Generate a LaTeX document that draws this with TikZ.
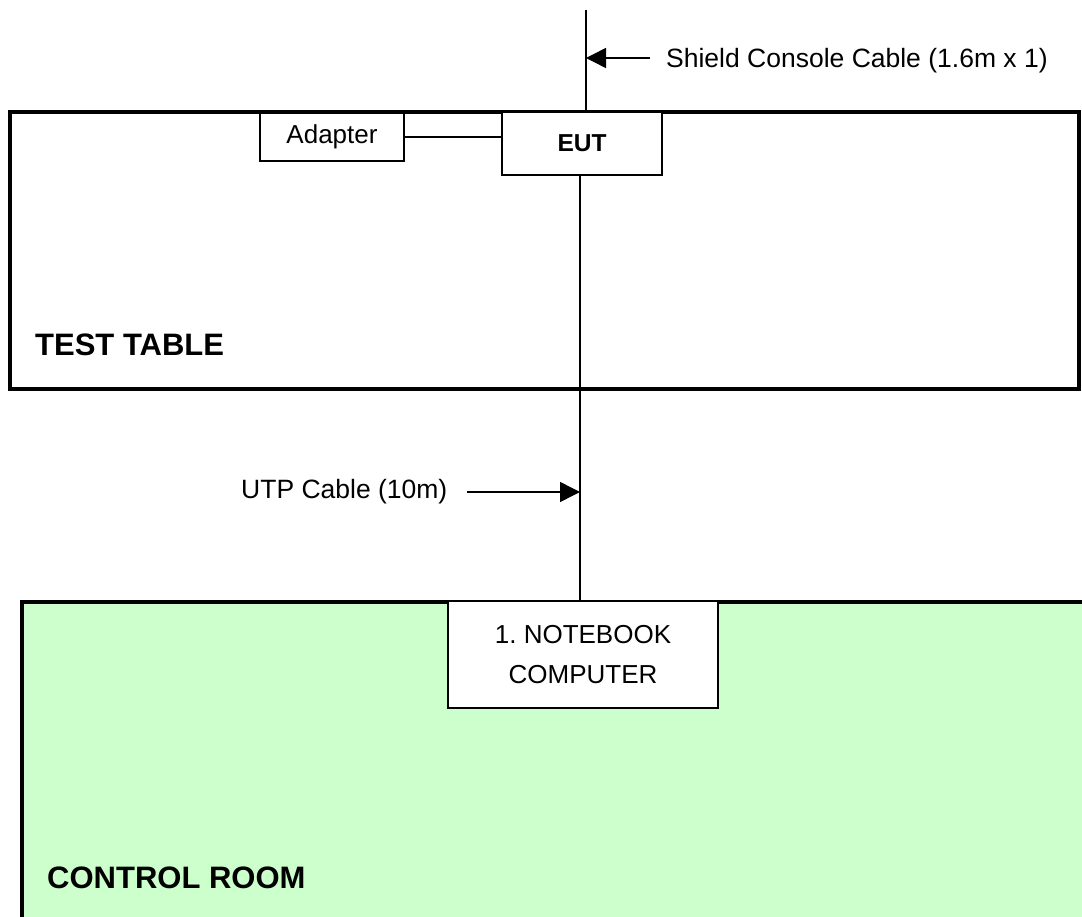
\documentclass[tikz,border=0pt]{standalone}
\usepackage{fontspec}
\setmainfont{Liberation Sans}
\usetikzlibrary{arrows.meta}
\frenchspacing
\definecolor{roomgreen}{HTML}{CCFFCC}
\tikzset{
  thinline/.style={line width=1.5pt},
  wall/.style={line width=4pt},
  devbox/.style={draw, line width=1.5pt, fill=white, inner sep=0pt, align=center,
    font=\fontsize{26}{40}\selectfont},
  label/.style={inner sep=0pt, anchor=west, font=\fontsize{26.5}{31}\selectfont},
  area/.style={inner sep=0pt, anchor=west, font=\bfseries\fontsize{31}{37}\selectfont},
  cablearrow/.style={thinline, -{Triangle[length=20pt, width=20pt]}},
}
\begin{document}
\begin{tikzpicture}[x=1pt, y=-1pt]
  \useasboundingbox[fill=white] (0,0) rectangle (1082,917);

  % control room floor, open to the right and bottom
  \fill[roomgreen] (22,602) rectangle (1090,925);
  \draw[wall] (22,925) -- (22,602) -- (1090,602);

  % test table outline
  \draw[wall] (10,112) rectangle (1079,389);

  % equipment
  \node[devbox, minimum width=144pt, minimum height=48pt] (adapter) at (332,137) {Adapter};
  \node[devbox, minimum width=160pt, minimum height=63pt,
        font=\bfseries\fontsize{24.5}{30}\selectfont] (eut) at (582,143.5) {EUT};
  \node[devbox, minimum width=270pt, minimum height=107pt] (nb) at (583,654.5)
    {1. NOTEBOOK\\COMPUTER};

  % area names
  \node[area] (tt) at (35,345) {TEST TABLE};
  \node[area] (cr) at (47,878) {CONTROL ROOM};

  % cables
  \coordinate (shtop) at (586,10);
  \coordinate (utpdown) at (580,175);
  \draw[thinline] (shtop) -- (shtop |- eut.north);
  \draw[thinline] (adapter.east) -- (adapter.east -| eut.west);
  \draw[thinline] (utpdown |- eut.south) -- (utpdown |- nb.north);

  % cable callouts
  \node[label] (shlabel) at (666,61) {Shield Console Cable (1.6m x 1)};
  \coordinate (sharrow) at (650,58);
  \draw[cablearrow] (sharrow) -- (shtop |- sharrow);

  \node[label] (utplabel) at (241,492) {UTP Cable (10m)};
  \coordinate (utparrow) at (467,492);
  \draw[cablearrow] (utparrow) -- (utpdown |- utparrow);
\end{tikzpicture}
\end{document}
